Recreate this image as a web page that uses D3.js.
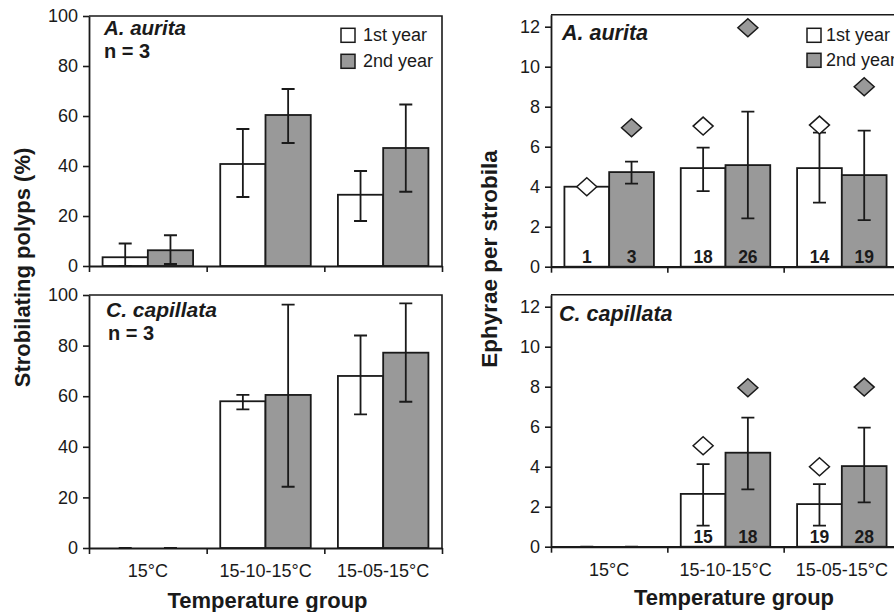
<!DOCTYPE html>
<html>
<head>
<meta charset="utf-8">
<script src="https://cdn.jsdelivr.net/npm/d3@7"></script>
<style>
  html, body { margin: 0; padding: 0; background: #fff; }
  svg { display: block; font-family: "Liberation Sans", Arial, sans-serif; }
</style>
</head>
<body>
<svg id="chart" width="894" height="612"></svg>
<script>
// ---------------- data ----------------
const categories = ["15°C", "15-10-15°C", "15-05-15°C"];
const series = ["1st year", "2nd year"];

// Strobilating polyps (%) - A. aurita
const aurPct1Mean = [3.5, 40.8, 28.5];
const aurPct1Hi   = [9.0, 54.8, 38.0];
const aurPct1Lo   = [0.0, 27.6, 18.0];
const aurPct2Mean = [6.3, 60.4, 47.2];
const aurPct2Hi   = [12.3, 70.8, 64.6];
const aurPct2Lo   = [0.8, 49.2, 29.7];

// Strobilating polyps (%) - C. capillata
const capPct1Mean = [0, 58.0, 68.0];
const capPct1Hi   = [0, 60.5, 84.0];
const capPct1Lo   = [0, 54.8, 52.8];
const capPct2Mean = [0, 60.5, 77.2];
const capPct2Hi   = [0, 96.2, 96.7];
const capPct2Lo   = [0, 24.2, 57.8];

// Ephyrae per strobila - A. aurita
const aurEph1Mean = [4.0, 4.93, 4.93];
const aurEph1Hi   = [null, 5.95, 6.7];
const aurEph1Lo   = [null, 3.78, 3.2];
const aurEph1Max  = [4.0, 7.03, 7.08];
const aurEph1N    = ["1", "18", "14"];
const aurEph2Mean = [4.73, 5.08, 4.58];
const aurEph2Hi   = [5.25, 7.75, 6.8];
const aurEph2Lo   = [4.15, 2.42, 2.33];
const aurEph2Max  = [6.95, 11.95, 9.0];
const aurEph2N    = ["3", "26", "19"];

// Ephyrae per strobila - C. capillata
const capEph1Mean = [0, 2.64, 2.13];
const capEph1Hi   = [0, 4.13, 3.13];
const capEph1Lo   = [0, 1.05, 1.05];
const capEph1Max  = [null, 5.05, 4.0];
const capEph1N    = [null, "15", "19"];
const capEph2Mean = [0, 4.7, 4.03];
const capEph2Hi   = [0, 6.45, 5.95];
const capEph2Lo   = [0, 2.87, 2.22];
const capEph2Max  = [null, 7.95, 7.98];
const capEph2N    = [null, "18", "28"];

const pctTicks = [0, 20, 40, 60, 80, 100];
const ephTicks = [0, 2, 4, 6, 8, 10, 12];

// ---------------- layout ----------------
const INK = "#1a1a1a";
const GRAY = "#999999";
const FONT = '"Liberation Sans", Arial, sans-serif';

const svg = d3.select("#chart");

function buildRows(m1, h1, l1, m2, h2, l2, mx1, mx2, n1, n2) {
  const rows = [];
  categories.forEach((c, i) => {
    rows.push({cat: c, ser: series[0], mean: m1[i], hi: h1[i], lo: l1[i],
               max: mx1 ? mx1[i] : null, n: n1 ? n1[i] : null});
    rows.push({cat: c, ser: series[1], mean: m2[i], hi: h2[i], lo: l2[i],
               max: mx2 ? mx2[i] : null, n: n2 ? n2[i] : null});
  });
  return rows;
}

const panels = [
  { x0: 89, x1: 442, y0: 266, yTop: 16, max: 100, ticks: pctTicks,
    rows: buildRows(aurPct1Mean, aurPct1Hi, aurPct1Lo, aurPct2Mean, aurPct2Hi, aurPct2Lo),
    label: "A. aurita", lx: 104, ly: 34.5, labelSize: 20.5, nText: "n = 3", nx: 104, ny: 57.5,
    legend: {bx: 341, tx: 363, y1: 28.3, y2: 54.3}, xLabels: false },
  { x0: 89, x1: 442, y0: 548, yTop: 295, max: 100, ticks: pctTicks,
    rows: buildRows(capPct1Mean, capPct1Hi, capPct1Lo, capPct2Mean, capPct2Hi, capPct2Lo),
    label: "C. capillata", lx: 106, ly: 316.5, labelSize: 21, nText: "n = 3", nx: 108, ny: 340,
    legend: null, xLabels: true, xPad: 16 },
  { x0: 551, x1: 900, y0: 266.7, yTop: 14.7, max: 12.6, ticks: ephTicks,
    rows: buildRows(aurEph1Mean, aurEph1Hi, aurEph1Lo, aurEph2Mean, aurEph2Hi, aurEph2Lo,
                    aurEph1Max, aurEph2Max, aurEph1N, aurEph2N),
    label: "A. aurita", lx: 562, ly: 40, labelSize: 21.5, nText: null,
    legend: {bx: 807, tx: 826, y1: 28.3, y2: 53.3}, xLabels: false },
  { x0: 551, x1: 900, y0: 546.7, yTop: 294.7, max: 12.6, ticks: ephTicks,
    rows: buildRows(capEph1Mean, capEph1Hi, capEph1Lo, capEph2Mean, capEph2Hi, capEph2Lo,
                    capEph1Max, capEph2Max, capEph1N, capEph2N),
    label: "C. capillata", lx: 559, ly: 320.5, labelSize: 21.5, nText: null,
    legend: null, xLabels: true, xPad: 17 }
];

panels.forEach(p => {
  const g = svg.append("g");
  const y = d3.scaleLinear().domain([0, p.max]).range([p.y0, p.yTop]);
  const x = d3.scaleBand().domain(categories).range([p.x0, p.x1]).padding(0);
  const xs = d3.scaleBand().domain(series).range([0, x.bandwidth()])
               .paddingInner(0).paddingOuter(0.3);
  const fill = s => s === series[0] ? "#ffffff" : GRAY;
  const cx = d => x(d.cat) + xs(d.ser) + xs.bandwidth() / 2;

  // frame (top + right)
  g.append("path")
    .attr("d", `M${p.x0},${p.yTop}H${p.x1}V${p.y0}`)
    .attr("fill", "none").attr("stroke", INK).attr("stroke-width", 1.6);

  // bars
  g.selectAll("rect.bar").data(p.rows.filter(d => d.mean > 0)).join("rect")
    .attr("class", "bar")
    .attr("x", d => x(d.cat) + xs(d.ser))
    .attr("width", xs.bandwidth())
    .attr("y", d => y(d.mean))
    .attr("height", d => y(0) - y(d.mean))
    .attr("fill", d => fill(d.ser))
    .attr("stroke", INK).attr("stroke-width", 1.8);

  // error bars
  const eb = p.rows.filter(d => d.hi !== null && d.lo !== null);
  const capW = 6.5;
  g.selectAll("path.err").data(eb).join("path")
    .attr("class", "err")
    .attr("d", d => {
      const c = cx(d), yh = y(d.hi), yl = y(d.lo);
      return `M${c},${yh}V${yl}M${c - capW},${yh}H${c + capW}M${c - capW},${yl}H${c + capW}`;
    })
    .attr("fill", "none").attr("stroke", INK).attr("stroke-width", 1.8);

  // maximum diamonds
  g.selectAll("path.dia").data(p.rows.filter(d => d.max !== null)).join("path")
    .attr("class", "dia")
    .attr("d", d => {
      const c = cx(d), m = y(d.max);
      return `M${c},${m - 9}L${c + 10},${m}L${c},${m + 9}L${c - 10},${m}Z`;
    })
    .attr("fill", d => fill(d.ser))
    .attr("stroke", INK).attr("stroke-width", 1.5);

  // n labels
  g.selectAll("text.n").data(p.rows.filter(d => d.n !== null)).join("text")
    .attr("class", "n")
    .attr("x", cx)
    .attr("y", y(0) - 4)
    .attr("text-anchor", "middle")
    .attr("font-size", 17.5).attr("font-weight", "bold").attr("fill", INK)
    .text(d => d.n);

  // y axis
  const ya = g.append("g").attr("transform", `translate(${p.x0},0)`)
    .call(d3.axisLeft(y).tickValues(p.ticks).tickSize(6).tickSizeOuter(0).tickPadding(5));
  ya.select(".domain").attr("stroke", INK).attr("stroke-width", 1.8);
  ya.selectAll(".tick line").attr("stroke", INK).attr("stroke-width", 1.6);
  ya.selectAll(".tick text").attr("font-size", 18).attr("font-family", FONT).attr("fill", INK);

  // x axis (category boundaries)
  const xb = d3.scaleLinear().domain([0, categories.length]).range([p.x0, p.x1]);
  const xa = g.append("g").attr("transform", `translate(0,${p.y0})`)
    .call(d3.axisBottom(xb).tickValues(d3.range(categories.length + 1))
          .tickSize(6).tickSizeOuter(0).tickFormat(""));
  xa.select(".domain").attr("stroke", INK).attr("stroke-width", 2.2);
  xa.selectAll(".tick line").attr("stroke", INK).attr("stroke-width", 1.6);

  if (p.xLabels) {
    const xl = g.append("g").attr("transform", `translate(0,${p.y0})`)
      .call(d3.axisBottom(x).tickSize(0).tickPadding(p.xPad));
    xl.select(".domain").remove();
    xl.selectAll(".tick text").attr("font-size", 18).attr("font-family", FONT).attr("fill", INK);
  }

  // panel label
  g.append("text").attr("x", p.lx).attr("y", p.ly)
    .attr("font-size", p.labelSize).attr("font-weight", "bold").attr("font-style", "italic")
    .attr("fill", INK).text(p.label);
  if (p.nText) {
    g.append("text").attr("x", p.nx).attr("y", p.ny)
      .attr("font-size", 20).attr("font-weight", "bold").attr("fill", INK).text(p.nText);
  }

  // legend
  if (p.legend) {
    const L = p.legend;
    [L.y1, L.y2].forEach((yy, i) => {
      g.append("rect").attr("x", L.bx).attr("y", yy).attr("width", 14).attr("height", 14)
        .attr("fill", fill(series[i])).attr("stroke", INK).attr("stroke-width", 1.5);
      g.append("text").attr("x", L.tx).attr("y", yy + 13)
        .attr("font-size", 18).attr("fill", INK).text(series[i]);
    });
  }
});

// axis titles
svg.append("text")
  .attr("transform", "translate(29.5,267.5) rotate(-90)")
  .attr("text-anchor", "middle").attr("font-size", 22).attr("font-weight", "bold")
  .attr("fill", INK).text("Strobilating polyps (%)");
svg.append("text")
  .attr("transform", "translate(497,259) rotate(-90)")
  .attr("text-anchor", "middle").attr("font-size", 22.5).attr("font-weight", "bold")
  .attr("fill", INK).text("Ephyrae per strobila");
svg.append("text")
  .attr("x", 267.5).attr("y", 608)
  .attr("text-anchor", "middle").attr("font-size", 22).attr("font-weight", "bold")
  .attr("fill", INK).text("Temperature group");
svg.append("text")
  .attr("x", 734).attr("y", 605)
  .attr("text-anchor", "middle").attr("font-size", 22).attr("font-weight", "bold")
  .attr("fill", INK).text("Temperature group");
</script>
</body>
</html>
